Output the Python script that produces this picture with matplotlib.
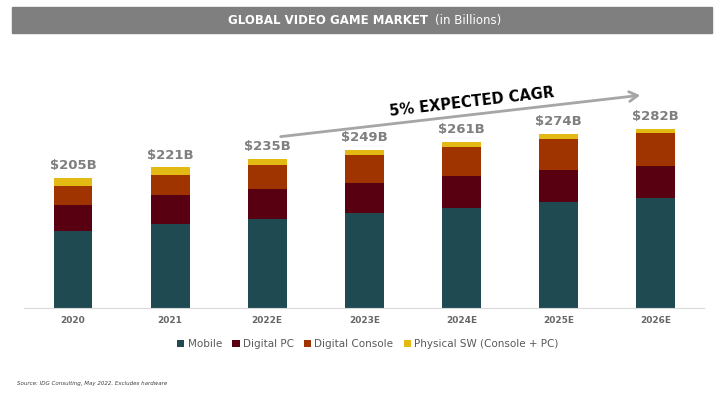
import matplotlib.pyplot as plt
from matplotlib.patches import Rectangle

#-------------------------- data
years = ['2020', '2021', '2022E', '2023E', '2024E', '2025E', '2026E']
mobile = [121, 132, 140, 149, 158, 166, 173]
digital_pc = [41, 45, 47, 48, 49, 51, 51]
digital_console = [30, 32, 38, 44, 46, 49, 51]
physical_sw = [13, 12, 10, 8, 8, 8, 7]
totals = [205, 221, 235, 249, 261, 274, 282]

series_names = ['Mobile', 'Digital PC', 'Digital Console', 'Physical SW (Console + PC)']
colors = ['#1f4a52', '#580011', '#a03400', '#e3b914']

#-------------------------- figure
fig = plt.figure(figsize=(7.2, 3.97), dpi=100)
ax = fig.add_axes([0.034, 0.224, 0.944, 0.673])

x = range(len(years))
bottom = [0] * len(years)
handles = []
for vals, name, clr in zip([mobile, digital_pc, digital_console, physical_sw], series_names, colors):
    b = ax.bar(x, vals, width=0.4, bottom=bottom, color=clr, label=name)
    handles.append(b)
    bottom = [bo + v for bo, v in zip(bottom, vals)]

for i, t in enumerate(totals):
    ax.annotate(f'${t}B', (i, bottom[i]), xytext=(0, 4), textcoords='offset points',
                ha='center', va='bottom', fontsize=9.5, fontweight='bold', color='#7f7f7f')

ax.set_xlim(-0.5, 6.5)
ax.set_ylim(0, 420)
ax.set_xticks(list(x))
ax.set_xticklabels(years, fontsize=6.5, fontweight='bold', color='#666666')
ax.tick_params(axis='x', length=0, pad=6)
ax.set_yticks([])
for s in ['top', 'right', 'left']:
    ax.spines[s].set_visible(False)
ax.spines['bottom'].set_color('#d9d9d9')

# growth arrow
ax.annotate('', xy=(5.87, 335), xytext=(2.11, 269),
            arrowprops=dict(arrowstyle='->,head_length=0.6,head_width=0.35', color='#a6a6a6', lw=2))
ax.text(4.11, 324, '5% EXPECTED CAGR', rotation=6.6, rotation_mode='anchor',
        ha='center', va='center', fontsize=10.5, fontweight='bold', color='black')

# title bar
fig.patches.append(Rectangle((0.017, 0.917), 0.972, 0.065, transform=fig.transFigure,
                             color='#7f7f80', zorder=0))
fig.text(0.594, 0.949, 'GLOBAL VIDEO GAME MARKET', ha='right', va='center',
         fontsize=8.5, fontweight='bold', color='white')
fig.text(0.604, 0.949, '(in Billions)', ha='left', va='center', fontsize=8.5, color='white')

fig.legend(handles=handles, labels=series_names, loc='center', bbox_to_anchor=(0.511, 0.134),
           ncol=4, frameon=False, fontsize=7.5, handlelength=0.7, handleheight=0.7,
           handletextpad=0.3, columnspacing=1.0, labelcolor='#595959')

fig.text(0.024, 0.03, 'Source: IDG Consulting, May 2022. Excludes hardware', fontsize=4,
         style='italic', color='#404040')

plt.savefig('out.png', dpi=100)
plt.close()
